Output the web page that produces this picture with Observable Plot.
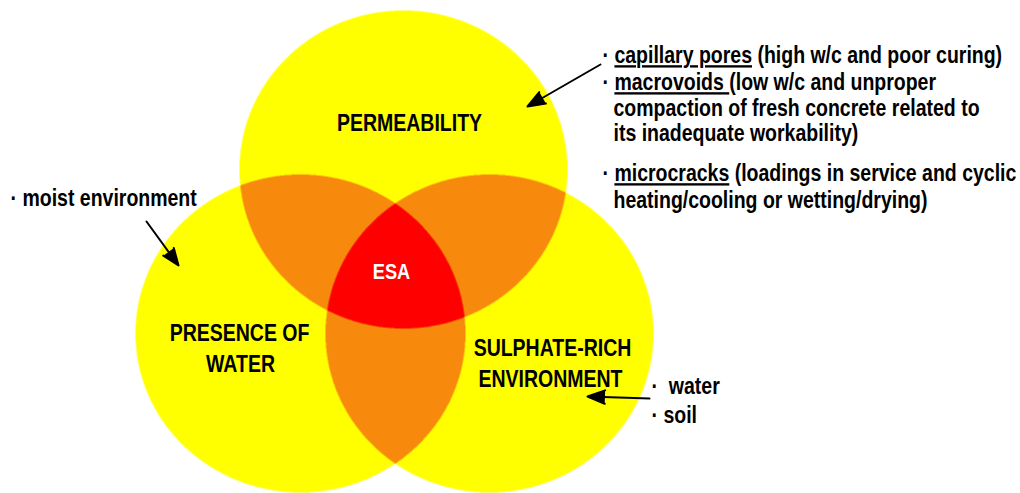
<!DOCTYPE html>
<html>
<head>
<meta charset="utf-8">
<script src="https://cdn.jsdelivr.net/npm/d3@7"></script>
<script src="https://cdn.jsdelivr.net/npm/@observablehq/plot@0.6"></script>
<style>
  html, body { margin: 0; padding: 0; background: #ffffff; }
  #chart svg { display: block; }
</style>
</head>
<body>
<div id="chart"></div>
<script>
// ---- Data (diagram coordinates, y grows downward) ----
const circleNames = ["PERMEABILITY", "PRESENCE OF WATER", "SULPHATE-RICH ENVIRONMENT"];
const circleCx = [403, 300, 489];
const circleCy = [169, 333, 333];
const circleRx = [164, 165, 164];
const circleRy = [159, 159, 159];
const overlapColors = ["#FFFF00", "#F7890D", "#FF0000"]; // 1, 2, 3 circles

const labelText = ["PERMEABILITY", "ESA", "PRESENCE OF", "WATER", "SULPHATE-RICH", "ENVIRONMENT"];
const labelX = [409, 391, 239, 240, 552, 550];
const labelY = [123, 271, 333, 364, 348, 379];
const labelColor = ["#000", "#fff", "#000", "#000", "#000", "#000"];
const labelSize = [23.5, 22, 23.5, 23.5, 23.5, 23.5];

const noteText = [
  "· capillary pores (high w/c and poor curing)",
  "· macrovoids (low w/c and unproper",
  "compaction of fresh concrete related to",
  "its inadequate workability)",
  "· microcracks (loadings in service and cyclic",
  "heating/cooling or wetting/drying)",
  "· moist environment",
  "·  water",
  "· soil"
];
const noteX = [602, 602, 613, 613, 602, 613, 10, 651, 651];
const noteY = [55, 82, 108, 133, 173, 200, 198, 386, 415];
const underlined = ["capillary pores", "macrovoids ", "microcracks"];

const arrowX1 = [600, 146, 649];
const arrowY1 = [64, 221, 398];
const arrowX2 = [527, 178, 587];
const arrowY2 = [106, 265, 396];

// ---- Tables built from arrays ----
const circles = circleNames.map((n, i) => ({n, cx: circleCx[i], cy: circleCy[i], rx: circleRx[i], ry: circleRy[i]}));
const labels = labelText.map((t, i) => ({t, x: labelX[i], y: labelY[i], c: labelColor[i], s: labelSize[i]}));
const notes = noteText.map((t, i) => ({t, x: noteX[i], y: noteY[i]}));
const arrows = arrowX1.map((x1, i) => ({x1, y1: arrowY1[i], x2: arrowX2[i], y2: arrowY2[i]}));

const W = 1020, H = 493;
const FONT = "'Liberation Sans', Arial, sans-serif";
const NARROW = 0.83; // Arial-Narrow-like horizontal compression

function regionColor(x, y) {
  let k = 0;
  for (const c of circles) {
    const dx = (x - c.cx) / c.rx, dy = (y - c.cy) / c.ry;
    if (dx * dx + dy * dy <= 1) k++;
  }
  return k ? overlapColors[k - 1] : "#ffffff";
}

const plot = Plot.plot({
  width: W,
  height: H,
  margin: 0,
  x: {domain: [0, W], range: [0, W], axis: null},
  y: {domain: [0, H], range: [0, H], axis: null},
  color: {type: "identity"},
  style: {background: "#ffffff", fontFamily: FONT},
  marks: [
    Plot.raster({x1: 0, x2: W, y1: 0, y2: H, pixelSize: 0.5, fill: regionColor}),
    Plot.text(labels, {x: "x", y: "y", text: "t", fill: "c", fontSize: "s", fontWeight: "bold", fontFamily: FONT}),
    Plot.text(notes, {x: "x", y: "y", text: "t", fill: "#000", fontSize: 23.5, fontWeight: "bold", textAnchor: "start", fontFamily: FONT}),
    Plot.arrow(arrows, {x1: "x1", y1: "y1", x2: "x2", y2: "y2", stroke: "#000", fill: "#000", strokeWidth: 2, headLength: 14, headAngle: 42})
  ]
});

// narrow the text and underline the key words of the annotation lines
d3.select(plot).selectAll("text").each(function () {
  const el = this;
  const x = +el.getAttribute("x") || 0, y = +el.getAttribute("y") || 0;
  const t = el.getAttribute("transform") || "";
  el.setAttribute("transform", `${t} translate(${x},${y}) scale(${NARROW},1) translate(${-x},${-y})`);
  if (el.querySelector("tspan")) return;
  const s = el.textContent;
  for (const u of underlined) {
    const i = s.indexOf(u);
    if (i >= 0) {
      const pre = s.slice(0, i), rest = s.slice(i + u.length);
      el.textContent = "";
      const sel = d3.select(el);
      sel.append("tspan").text(pre);
      sel.append("tspan").attr("text-decoration", "underline").style("text-decoration", "underline").text(u);
      sel.append("tspan").text(rest);
      break;
    }
  }
});

document.getElementById("chart").appendChild(plot);
</script>
</body>
</html>
